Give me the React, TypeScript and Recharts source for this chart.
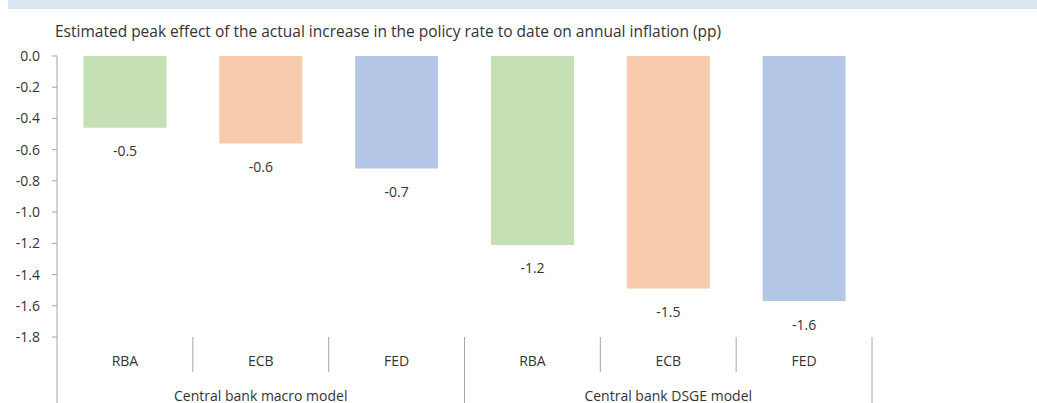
import { BarChart, Bar, XAxis, YAxis, Cell, LabelList } from "recharts";

const BANCOS = ["RBA", "ECB", "FED", "RBA", "ECB", "FED"];
const MODELOS = ["Central bank macro model", "Central bank DSGE model"];
const EFECTO = [-0.46, -0.56, -0.72, -1.21, -1.49, -1.57];
const COLORES = ["#c5e0b4", "#f8cbad", "#b4c7e7", "#c5e0b4", "#f8cbad", "#b4c7e7"];
const TICKS_Y = [0, -0.2, -0.4, -0.6, -0.8, -1.0, -1.2, -1.4, -1.6, -1.8];

const TITULO = "Estimated peak effect of the actual increase in the policy rate to date on annual inflation (pp)";

const data = BANCOS.map((banco, i) => ({ id: `${i}-${banco}`, banco, efecto: EFECTO[i] }));

const FUENTE = "'Open Sans', Lato, sans-serif";
const GRIS = "#a6a6a6";
const TEXTO = "#333333";

function TickInferior(props: any) {
  const { x, y, payload, index } = props;
  const off = payload?.offset ?? 0;
  const fin = index % 3 === 2;
  return (
    <g>
      {index === 0 && <line x1={x - off} x2={x - off} y1={y} y2={y + 66} stroke={GRIS} />}
      <line x1={x + off} x2={x + off} y1={y} y2={y + (fin ? 66 : 35)} stroke={GRIS} />
      <text x={x} y={y + 23} textAnchor="middle" dominantBaseline="central" fontSize={14} fill={TEXTO} fontFamily={FUENTE}>
        {BANCOS[index]}
      </text>
      {index % 3 === 1 && (
        <text x={x} y={y + 58} textAnchor="middle" dominantBaseline="central" fontSize={14} fill={TEXTO} fontFamily={FUENTE}>
          {MODELOS[Math.floor(index / 3)]}
        </text>
      )}
    </g>
  );
}

function TickSuperior(props: any) {
  const { x, y, payload } = props;
  const off = payload?.offset ?? 0;
  return <line x1={x + off} x2={x + off} y1={y} y2={y + 5} stroke={GRIS} />;
}

function Etiqueta(props: any) {
  const { x, y, width, height, value } = props;
  const abajo = Math.max(y, y + height);
  return (
    <text x={x + width / 2} y={abajo + 23} textAnchor="middle" dominantBaseline="central" fontSize={14} fill={TEXTO} fontFamily={FUENTE}>
      {Number(value).toFixed(1)}
    </text>
  );
}

export default function App() {
  return (
    <div style={{ position: "absolute", left: 0, top: 0, width: 1037, height: 403, background: "#fff", overflow: "hidden" }}>
      <div style={{ position: "absolute", left: 8, top: 0, width: 1029, height: 9, background: "#dbe4f1" }} />
      <div
        style={{
          position: "absolute",
          left: 55,
          top: 20,
          fontFamily: FUENTE,
          fontSize: 15.5,
          color: TEXTO,
          whiteSpace: "nowrap",
        }}
      >
        {TITULO}
      </div>
      <BarChart
        width={1037}
        height={403}
        data={data}
        margin={{ top: 56, right: 165, left: 0, bottom: 0 }}
        barCategoryGap="19.5%"
      >
        <XAxis
          dataKey="id"
          height={66}
          axisLine={false}
          tickLine={false}
          tickSize={0}
          tickMargin={0}
          interval={0}
          tick={<TickInferior />}
        />
        <XAxis
          xAxisId="top"
          dataKey="id"
          orientation="top"
          height={0}
          axisLine={{ stroke: GRIS }}
          tickLine={false}
          tickSize={0}
          tickMargin={0}
          interval={0}
          tick={<TickSuperior />}
        />
        <YAxis
          width={57}
          domain={[-1.8, 0]}
          ticks={TICKS_Y}
          interval={0}
          tickFormatter={(v) => Number(v).toFixed(1)}
          axisLine={{ stroke: GRIS }}
          tickLine={{ stroke: GRIS }}
          tickSize={5}
          tickMargin={12}
          tick={{ fontSize: 14, fill: TEXTO, fontFamily: FUENTE }}
        />
        <Bar dataKey="efecto" isAnimationActive={false}>
          {data.map((d, i) => (
            <Cell key={d.id} fill={COLORES[i]} />
          ))}
          <LabelList dataKey="efecto" content={<Etiqueta />} />
        </Bar>
      </BarChart>
    </div>
  );
}
